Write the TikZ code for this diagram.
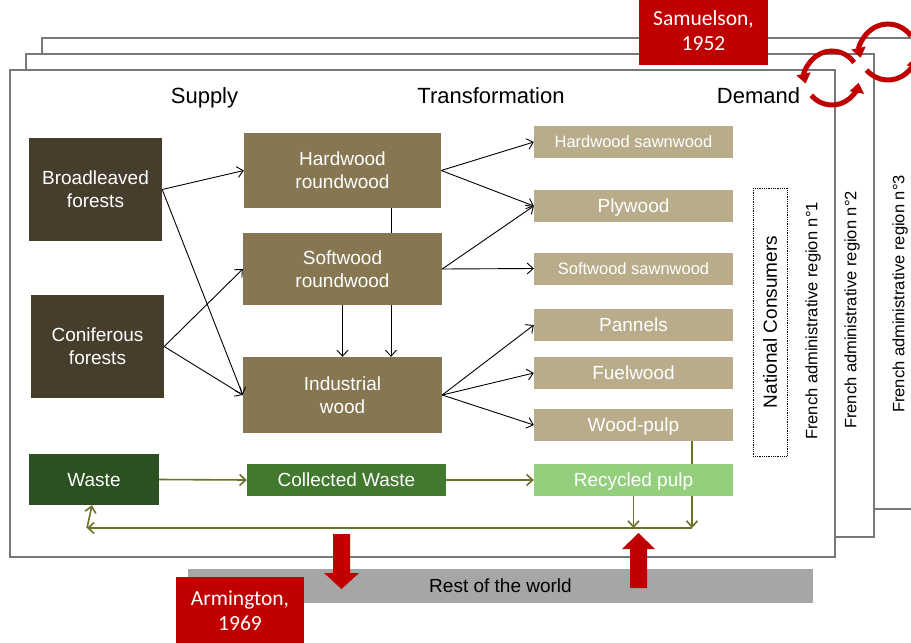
\documentclass[tikz,border=0pt]{standalone}
\usepackage{fontspec}
\setmainfont{Liberation Sans}
\newfontfamily\calib{Carlito}
\usetikzlibrary{arrows.meta}
\definecolor{panelgray}{HTML}{777777}
\definecolor{forest}{HTML}{473D2C}
\definecolor{roundw}{HTML}{867752}
\definecolor{prod}{HTML}{B9AC8A}
\definecolor{wastec}{HTML}{2C5121}
\definecolor{collc}{HTML}{41792E}
\definecolor{recyc}{HTML}{93CF7D}
\definecolor{redc}{HTML}{C00000}
\definecolor{barc}{HTML}{A6A6A6}
\definecolor{olivec}{HTML}{6B7126}
\begin{document}
\begin{tikzpicture}[x=1pt,y=-1pt,
  panel/.style={draw=panelgray, line width=1.3pt, fill=white},
  wh/.style 2 args={minimum width=#1pt, minimum height=#2pt},
  box/.style={inner sep=0pt, align=center, text=white, text depth=0pt, font=\fontsize{19}{23}\selectfont},
  sbox/.style={box, font=\fontsize{16.5}{20}\selectfont},
  hdr/.style={inner sep=0pt, anchor=base, font=\fontsize{22}{26}\selectfont},
  rot/.style={inner sep=0pt, rotate=90, font=\fontsize{16.5}{20}\selectfont},
  redbox/.style={inner sep=0pt, align=center, fill=redc, text=white, text depth=0pt, font=\calib\fontsize{21.5}{25}\selectfont},
  blk/.style={-{Straight Barb[length=6pt,width=11pt]}, line width=0.9pt},
  gline/.style={draw=olivec, line width=1.6pt},
  garr/.style={gline, -{Straight Barb[length=6pt,width=11pt]}},
  cyc/.style={draw=redc, line width=5pt, -{Triangle[length=10pt,width=14pt]}}
]
\useasboundingbox (0,0) rectangle (911,643);
% panels
\draw[panel] (42,38) rectangle (930,509);
\draw[panel] (26,54) rectangle (874,537);
\draw[panel] (10,70) rectangle (835,557);
% Samuelson
\node[redbox, wh={129}{69}] (sam) at (703.5,30.5) {Samuelson,\\1952};
% cycle arrows
\begin{scope}[shift={(832,78)}, yscale=-1]
  \draw[cyc] (35:27) arc[start angle=35, end angle=192, radius=27];
  \draw[cyc] (220:27) arc[start angle=220, end angle=350, radius=27];
\end{scope}
\begin{scope}[shift={(888,52)}, yscale=-1]
  \draw[cyc] (35:28) arc[start angle=35, end angle=192, radius=28];
  \draw[cyc] (220:28) arc[start angle=220, end angle=350, radius=28];
\end{scope}
% headers
\node[hdr] (hsup) at (204.5,103) {Supply};
\node[hdr] (htra) at (491,103) {Transformation};
\node[hdr] (hdem) at (758.5,103) {Demand};
% forests
\node[box, fill=forest, wh={133}{103}] (broad) at (95.5,189.5) {Broadleaved\\forests};
\node[box, fill=forest, wh={133}{103}] (conif) at (97.5,346.5) {Coniferous\\forests};
% roundwood
\node[box, fill=roundw, wh={197}{75}] (hard) at (342.5,170.5) {Hardwood\\roundwood};
\node[box, fill=roundw, wh={199}{72}] (soft) at (342.5,269) {Softwood\\roundwood};
\node[box, fill=roundw, wh={199}{76}] (indus) at (342.5,395) {Industrial\\wood};
% products
\node[sbox, fill=prod, wh={199}{32}] (hsaw) at (633.5,142) {Hardwood sawnwood};
\node[box, fill=prod, wh={199}{32}] (ply) at (633.5,206) {Plywood};
\node[sbox, fill=prod, wh={199}{32}] (ssaw) at (633.5,268.5) {Softwood sawnwood};
\node[box, fill=prod, wh={199}{32}] (pann) at (633.5,325) {Pannels};
\node[box, fill=prod, wh={199}{32}] (fuel) at (633.5,373) {Fuelwood};
\node[box, fill=prod, wh={199}{32}] (pulp) at (633.5,425) {Wood-pulp};
% waste row
\node[box, fill=wastec, wh={130}{51}] (waste) at (94,479.5) {Waste};
\node[box, fill=collc, wh={199}{32}] (coll) at (346.5,480) {Collected Waste};
\node[box, fill=recyc, wh={199}{32}] (recy) at (633.5,480) {Recycled pulp};
% national consumers
\node[draw, densely dotted, line width=0.8pt, inner sep=0pt, rotate=90, wh={268}{34},
      font=\fontsize{19}{23}\selectfont] (nat) at (770,322) {National Consumers};
\node[rot] (reg1) at (813,321) {French administrative region n°1};
\node[rot] (reg2) at (852,310) {French administrative region n°2};
\node[rot] (reg3) at (900,294) {French administrative region n°3};
% black connectors
\draw[blk] (broad.east) -- (hard.west);
\draw[blk] (broad.east) -- (indus.west);
\draw[blk] (conif.east) -- (soft.west);
\draw[blk] (conif.east) -- (indus.west);
\draw[line width=0.9pt] ([xshift=48.5pt]hard.south) -- ([xshift=48.5pt]soft.north);
\draw[blk] (soft.south) -- (indus.north);
\draw[blk] ([xshift=48.5pt]soft.south) -- ([xshift=48.5pt]indus.north);
\draw[blk] (hard.east) -- (hsaw.west);
\draw[blk] (hard.east) -- (ply.west);
\draw[blk] (soft.east) -- (ply.west);
\draw[blk] (soft.east) -- (ssaw.west);
\draw[blk] (indus.east) -- (pann.west);
\draw[blk] (indus.east) -- (fuel.west);
\draw[blk] (indus.east) -- (pulp.west);
% green connectors
\coordinate (j1) at (633.5,528);
\coordinate (j2) at (692,528);
\coordinate (j3) at (87,528);
\draw[garr] (waste.east) -- (coll.west);
\draw[garr] (coll.east) -- (recy.west);
\draw[gline] ([xshift=58.5pt]pulp.south) -- ([xshift=58.5pt]recy.north);
\draw[garr] ([xshift=58.5pt]recy.south) -- (j2);
\draw[garr] (recy.south) -- (j1);
\draw[garr] (j2) -- (j3);
\draw[garr] (j3) -- ([xshift=-2pt]waste.south);
% rest of world
\node[fill=barc, inner sep=0pt, text depth=0pt, wh={625}{34}, font=\fontsize{19}{23}\selectfont] (row) at (500.5,586) {Rest of the world};
\node[redbox, wh={128}{68}] (arm) at (240,611) {Armington,\\1969};
% red block arrows
\fill[redc] (333,534) -- (350,534) -- (350,573) -- (359,573) -- (341.5,589) -- (324,573) -- (333,573) -- cycle;
\fill[redc] (630,588) -- (647,588) -- (647,549) -- (655,549) -- (638.5,533) -- (622,549) -- (630,549) -- cycle;
\end{tikzpicture}
\end{document}
